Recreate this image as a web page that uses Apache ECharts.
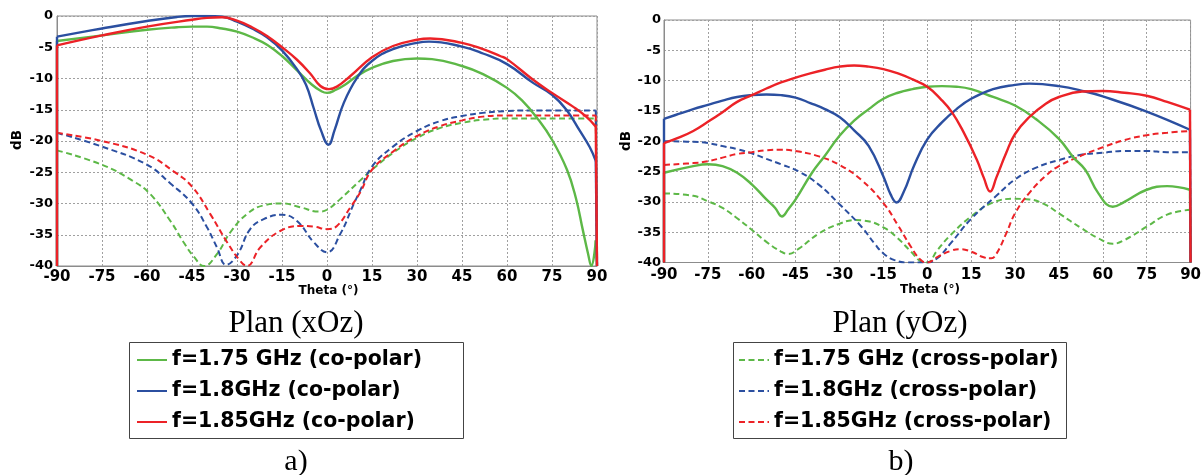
<!DOCTYPE html>
<html><head><meta charset="utf-8">
<script src="https://cdn.jsdelivr.net/npm/echarts@6.0.0/dist/echarts.min.js"></script>
<style>html,body{margin:0;padding:0;background:#fff;}#c{width:1204px;height:475px;}</style>
</head><body><div id="c"></div>
<script>
// ---------- DATA (theta in degrees, level in dB) ----------
const thetaTicks = [-90, 90, 15];   // min, max, step
const dbTicks = [-40, 0, 5];        // min, max, step

const names = {
  co175: 'f=1.75 GHz (co-polar)',
  co18: 'f=1.8GHz (co-polar)',
  co185: 'f=1.85GHz (co-polar)',
  x175: 'f=1.75 GHz (cross-polar)',
  x18: 'f=1.8GHz (cross-polar)',
  x185: 'f=1.85GHz (cross-polar)'
};

// Plan (xOz)
const xozCo175 = [[-90,-4.0],[-75,-3.1],[-60,-2.2],[-50,-1.8],[-45,-1.7],[-40,-1.7],[-35,-2.0],[-30,-2.5],[-25,-3.4],[-20,-4.6],[-15,-6.4],[-10,-8.7],[-5,-11.0],[-2,-12.0],[0,-12.3],[3,-11.8],[6,-11.0],[10,-9.6],[15,-8.3],[22,-7.2],[30,-6.8],[35,-6.9],[45,-8.0],[52,-9.3],[60,-11.5],[65,-13.5],[70,-16.3],[75,-19.8],[80,-24.6],[83,-29.2],[85.3,-34.3],[87,-38.0],[88.1,-40],[89.6,-35.9]];
const xozCo18 = [[-90,-3.3],[-75,-2.0],[-60,-0.8],[-50,-0.15],[-45,0],[-40,0],[-35,-0.1],[-30,-0.9],[-25,-2.0],[-20,-3.4],[-15,-5.5],[-10,-8.5],[-7,-11.0],[-4.4,-14.8],[-2,-18.3],[0.5,-20.6],[2.5,-18.3],[5.6,-13.9],[10,-9.9],[15,-7.2],[22,-5.3],[30,-4.3],[34,-4.1],[45,-4.9],[52,-6.0],[60,-7.7],[68.7,-10.7],[75,-12.6],[79.8,-15.0],[84.2,-18.3],[87.6,-21.0],[89.6,-23.2]];
const xozCo185 = [[-90,-4.7],[-75,-3.1],[-60,-1.7],[-45,-0.6],[-40,-0.3],[-35,-0.2],[-30,-0.75],[-25,-1.8],[-20,-3.2],[-15,-5.0],[-10,-7.0],[-5.6,-9.2],[-2.2,-11.2],[0.6,-11.7],[3.3,-11.3],[7.8,-9.6],[15,-6.6],[22,-4.8],[30,-3.8],[34.4,-3.6],[45,-4.3],[52,-5.3],[57.7,-6.4],[60,-6.9],[68.7,-10.2],[75,-12.3],[82,-14.5],[86.4,-16.1],[89.6,-17.7]];
const xozX175 = [[-90,-21.5],[-75,-23.8],[-65,-26.3],[-58.9,-28.5],[-52.2,-32.8],[-47.8,-36.2],[-44.4,-38.5],[-41,-40],[-36.7,-38.1],[-32.2,-34.6],[-26.7,-31.7],[-21.1,-30.3],[-15,-30.0],[-8.9,-30.6],[-2.8,-31.3],[0,-31.0],[4.4,-29.3],[11.1,-26.3],[15,-24.6],[22,-21.9],[30,-19.5],[37.8,-17.9],[45,-17.1],[52,-16.6],[60,-16.4],[70,-16.4],[80,-16.4],[89.6,-16.4]];
const xozX18 = [[-90,-18.7],[-75,-20.9],[-60,-23.8],[-52.2,-26.8],[-45,-30.0],[-40,-33.8],[-36.7,-37.0],[-33.6,-39.8],[-30,-38.3],[-25.6,-34.1],[-21.1,-32.5],[-15,-31.8],[-10,-32.8],[-4.4,-36.2],[0,-37.8],[4.4,-34.9],[8.9,-30.1],[11.1,-27.9],[15,-24.1],[22,-20.9],[30,-18.4],[37.8,-16.8],[45,-16.0],[52,-15.5],[60,-15.2],[68,-15.1],[80,-15.1],[89.6,-15.1]];
const xozX185 = [[-90,-18.7],[-75,-20.0],[-60,-22.2],[-51,-24.9],[-45,-27.3],[-38.9,-31.7],[-33.3,-36.2],[-28.9,-39.2],[-26.7,-40],[-22.2,-37.0],[-15.6,-34.4],[-8.9,-33.6],[-4.4,-33.7],[0,-34.1],[3.3,-33.6],[7.8,-30.6],[11.1,-28.2],[15,-24.6],[22,-21.7],[30,-19.2],[37.8,-17.6],[45,-16.7],[52,-16.1],[60,-15.9],[65,-15.9],[80,-15.9],[89.6,-15.9]];

// Plan (yOz)
const yozCo175 = [[-90,-25.2],[-80,-24.1],[-75,-23.8],[-70,-24.1],[-65,-25.2],[-60,-27.1],[-55,-29.6],[-52,-31.0],[-49.7,-32.4],[-47.5,-31.2],[-45,-29.6],[-39.4,-25.2],[-35,-22.4],[-30,-19.1],[-25,-16.6],[-20,-14.7],[-15,-13.0],[-10,-12.0],[-5,-11.4],[0,-11.0],[5,-10.9],[10,-11.0],[15,-11.4],[22.5,-12.7],[30,-14.1],[37,-16.3],[45,-19.6],[50,-22.7],[54,-24.7],[58.5,-28.6],[63.4,-30.8],[67.4,-30.0],[75,-28.0],[82,-27.4],[89.8,-28.0]];
const yozCo18 = [[-90,-16.3],[-85,-15.5],[-80,-14.7],[-75,-14.0],[-70,-13.3],[-65,-12.7],[-60,-12.4],[-55,-12.3],[-50,-12.4],[-45,-12.8],[-40,-13.7],[-35,-14.7],[-30,-16.0],[-25,-18.2],[-20,-20.8],[-15,-25.8],[-12.5,-28.8],[-10.5,-30.1],[-8,-28.3],[-4.5,-24.0],[0,-19.7],[5,-16.9],[10,-14.7],[15,-13.0],[22.5,-11.4],[30,-10.7],[35,-10.5],[45,-10.9],[54,-11.8],[60,-12.6],[75,-15.1],[89.8,-18.1]];
const yozCo185 = [[-90,-20.3],[-85,-19.4],[-80,-18.3],[-75,-16.8],[-70,-15.2],[-65,-13.5],[-60,-12.4],[-55,-11.3],[-50,-10.3],[-45,-9.5],[-40,-8.8],[-35,-8.2],[-30,-7.7],[-25,-7.5],[-20,-7.7],[-15,-8.1],[-10,-8.8],[-5,-9.8],[0,-11.0],[4.5,-13.0],[8.4,-15.2],[12.4,-18.5],[16.9,-23.0],[19.3,-26.0],[21.5,-28.3],[23.6,-26.0],[27,-21.9],[30,-18.8],[34.9,-16.0],[40.5,-13.8],[45,-12.7],[52.9,-11.8],[60,-11.7],[67.4,-12.0],[75,-12.5],[82,-13.5],[89.8,-14.8]];
const yozX175 = [[-90,-28.6],[-80,-29.0],[-75,-29.9],[-70,-31.0],[-65,-32.7],[-60,-34.6],[-55,-36.6],[-50,-38.2],[-47.5,-38.6],[-43.9,-37.7],[-37,-35.2],[-30,-33.6],[-24.7,-33.0],[-21.4,-33.1],[-15,-34.2],[-10.1,-36.0],[-5.6,-38.2],[-1.7,-39.9],[0,-40],[3.4,-38.0],[7.9,-35.5],[15,-32.4],[22.5,-30.1],[30,-29.5],[35,-29.6],[40.5,-30.5],[45,-31.9],[52.9,-34.4],[58.5,-36.0],[63.4,-36.9],[67.4,-36.3],[75,-34.1],[82,-32.1],[89.8,-31.3]];
const yozX18 = [[-90,-20.0],[-80,-20.1],[-75,-20.3],[-70,-20.8],[-65,-21.3],[-60,-22.0],[-55,-22.9],[-50,-23.8],[-43.9,-25.0],[-37,-27.2],[-30,-30.4],[-22.5,-34.1],[-18,-36.9],[-15,-38.5],[-11.2,-39.6],[-6.7,-40],[0,-40],[3.4,-39.3],[7.9,-36.9],[15,-32.8],[23.6,-29.0],[30,-26.3],[37,-24.4],[45,-23.1],[53,-22.2],[60,-21.9],[67.5,-21.6],[75,-21.6],[82,-21.8],[89.8,-21.8]];
const yozX185 = [[-90,-23.9],[-80,-23.6],[-75,-23.3],[-70,-22.7],[-65,-22.1],[-60,-21.8],[-55,-21.5],[-50,-21.4],[-43.9,-21.7],[-37,-22.5],[-30,-23.9],[-22.5,-26.4],[-15,-30.2],[-10.1,-33.8],[-5.6,-37.4],[-2.2,-39.6],[0,-40],[3.4,-39.1],[7.9,-38.1],[11.2,-37.8],[15,-38.2],[19,-39.1],[21.9,-39.3],[23.6,-38.6],[27,-35.2],[30,-31.9],[34.9,-28.5],[40.5,-25.7],[45,-24.1],[53,-22.3],[60,-21.0],[67.4,-19.8],[75,-19.0],[82,-18.6],[89.8,-18.3]];

// ---------- STYLE ----------
const GREEN = '#5DB847', BLUE = '#2B4FA0', RED = '#EC2227';
const SANS = 'DejaVu Sans';

const chart = echarts.init(document.getElementById('c'), null, {renderer: 'canvas'});

function xAxis(gi, margin) {
  return {type: 'value', gridIndex: gi, min: thetaTicks[0], max: thetaTicks[1], interval: thetaTicks[2],
    axisLine: {show: true, onZero: false, lineStyle: {color: '#8c8c8c', width: 1}},
    axisTick: {show: false},
    axisLabel: {color: '#000', fontFamily: SANS, fontWeight: 'bold', fontSize: 15, margin: margin},
    splitLine: {show: true, lineStyle: {color: '#a0a0a0', type: [2, 2], width: 1}}};
}
function yAxis(gi, margin) {
  return {type: 'value', gridIndex: gi, min: dbTicks[0], max: dbTicks[1], interval: dbTicks[2],
    axisLine: {show: true, onZero: false, lineStyle: {color: '#8c8c8c', width: 1}},
    axisTick: {show: false},
    axisLabel: {color: '#000', fontFamily: SANS, fontWeight: 'bold', fontSize: 13, margin: margin},
    splitLine: {show: true, lineStyle: {color: '#a0a0a0', type: [2, 2], width: 1}}};
}

function lineStyle(color, dashed) {
  return {color: color, width: dashed ? 2 : 2.4, type: dashed ? [6, 3.5] : 'solid'};
}
function curve(name, data, gi, color, dashed) {
  return {type: 'line', name: name, data: data, xAxisIndex: gi, yAxisIndex: gi,
    symbol: 'none', showSymbol: false, smooth: 0.45, animation: false,
    lineStyle: lineStyle(color, dashed), itemStyle: {color: color}};
}
// vertical drops at both ends of each trace, down to the axis minimum (unnamed, not in legend)
function drops(name, data, gi, color, dashed) {
  const first = data[0], last = data[data.length - 1];
  const lo = dbTicks[0], xs = thetaTicks;
  return [
    {type: 'line', data: [[xs[0], lo], [xs[0], first[1]]], xAxisIndex: gi, yAxisIndex: gi,
      symbol: 'none', animation: false, lineStyle: lineStyle(color, dashed), itemStyle: {color: color}},
    {type: 'line', data: [[last[0], last[1]], [xs[1], last[1]], [xs[1], lo]], xAxisIndex: gi, yAxisIndex: gi,
      symbol: 'none', animation: false, lineStyle: lineStyle(color, dashed), itemStyle: {color: color}}
  ];
}

const defs = [
  [names.x175, xozX175, 0, GREEN, true], [names.x18, xozX18, 0, BLUE, true], [names.x185, xozX185, 0, RED, true],
  [names.co175, xozCo175, 0, GREEN, false], [names.co18, xozCo18, 0, BLUE, false], [names.co185, xozCo185, 0, RED, false],
  [names.x175, yozX175, 1, GREEN, true], [names.x18, yozX18, 1, BLUE, true], [names.x185, yozX185, 1, RED, true],
  [names.co175, yozCo175, 1, GREEN, false], [names.co18, yozCo18, 1, BLUE, false], [names.co185, yozCo185, 1, RED, false]
];
const series = [];
defs.forEach(d => { series.push(curve(...d)); series.push(...drops(...d)); });

const legendText = {color: '#000', fontFamily: SANS, fontWeight: 'bold', fontSize: 20.5, lineHeight: 24};
const legendCommon = {orient: 'vertical', top: 348, padding: 0, itemWidth: 30, itemHeight: 14, itemGap: 7,
  selectedMode: false, z: 10, textStyle: legendText,
  itemStyle: {color: 'rgba(0,0,0,0)', borderWidth: 0, opacity: 0}};
function txt(x, y, text, font, rot) {
  return {type: 'text', x: x, y: y, rotation: rot || 0, z: 5,
    style: {text: text, font: font, fill: '#000', align: 'center', verticalAlign: 'middle', textAlign: 'center', textVerticalAlign: 'middle'}};
}
const option = {
  backgroundColor: '#fff',
  animation: false,
  grid: [
    {left: 57, right: 607, top: 16, bottom: 209, show: true, borderColor: '#8c8c8c', borderWidth: 1},
    {left: 664, right: 7.5, top: 20, bottom: 212.5, show: true, borderColor: '#8c8c8c', borderWidth: 1}
  ],
  xAxis: [xAxis(0, 4), xAxis(1, 5)],
  yAxis: [yAxis(0, 4), yAxis(1, 3)],
  legend: [
    Object.assign({data: [names.co175, names.co18, names.co185], left: 136}, legendCommon),
    Object.assign({data: [names.x175, names.x18, names.x185], left: 738}, legendCommon)
  ],
  graphic: [
    {type: 'rect', z: 1, shape: {x: 129.5, y: 342.5, width: 334, height: 96}, style: {fill: '#fff', stroke: '#444', lineWidth: 1}},
    {type: 'rect', z: 1, shape: {x: 733.5, y: 342.5, width: 333, height: 96}, style: {fill: '#fff', stroke: '#444', lineWidth: 1}},
    txt(17.5, 140, 'dB', 'bold 13.5px "DejaVu Sans"', Math.PI / 2),
    txt(626.5, 141, 'dB', 'bold 13.5px "DejaVu Sans"', Math.PI / 2),
    txt(328.5, 290.5, 'Theta (°)', 'bold 12px "DejaVu Sans"'),
    txt(930, 290, 'Theta (°)', 'bold 12px "DejaVu Sans"'),
    txt(296, 324, 'Plan (xOz)', '31px "Liberation Serif"'),
    txt(900, 324, 'Plan (yOz)', '31px "Liberation Serif"'),
    txt(296, 462, 'a)', '30px "Liberation Serif"'),
    txt(901, 462, 'b)', '30px "Liberation Serif"')
  ],
  series: series
};
chart.setOption(option);
</script></body></html>
